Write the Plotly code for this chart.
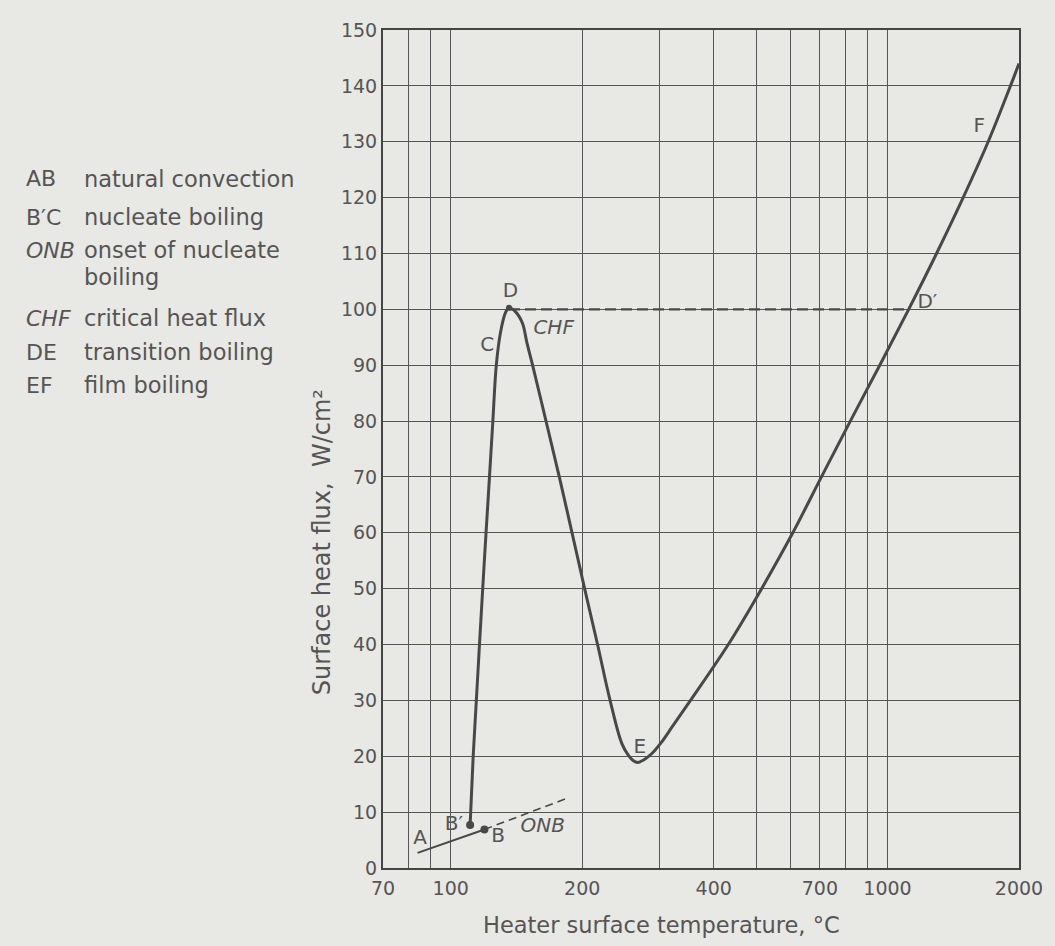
import numpy as np
import plotly.graph_objects as go

# ---------------- data ----------------
# main boiling curve B' -> C -> D -> E -> F  (temperature degC, heat flux W/cm2)
curve_T = [110.8, 112.6, 114.5, 116.4, 118.4, 120.5, 122.7, 124.9, 127.2, 130,
           133.5, 136, 141, 146, 149.5, 154, 165.3, 177.3, 189.6, 202.6, 216.9, 231.7,
           246.4, 255, 262, 268, 276, 288, 303, 321, 354, 432, 515, 607, 706, 822, 960,
           1118, 1295, 1490, 1700, 1912, 2000]
curve_q = [7.7, 20, 30, 40, 50, 60, 70, 80, 90, 95.8,
           99.4, 100.3, 99.5, 97.5, 94, 90, 80, 70, 60, 50, 40, 30,
           22.3, 20.2, 19.2, 18.9, 19.3, 20.4, 22.4, 25.2, 30, 40, 50, 60, 70, 80, 90,
           100, 110, 120, 130, 140, 144]

# natural convection A -> B
ab_T = [84, 119.5]
ab_q = [2.7, 6.9]

# ONB dashed extension
onb_T = [119.5, 185]
onb_q = [6.9, 12.5]

# CHF dashed line D -> D'
chf_T = [136, 1118]
chf_q = [100, 100]

# marked points
dot_T = [110.8, 119.5]
dot_q = [7.7, 6.9]
peak_T = [136]
peak_q = [100.3]

# point labels
lab_text = ["A", "B′", "B", "C", "D", "E", "D′", "F"]
lab_T = [85.1, 101.7, 128.5, 121.3, 137, 270.9, 1234, 1623]
lab_q = [5.2, 7.7, 5.6, 93.5, 103.1, 21.5, 101.2, 132.6]
ital_text = ["<i>ONB</i>", "<i>CHF</i>"]
ital_T = [162.4, 172.1]
ital_q = [7.4, 96.4]

# axis ticks
x_tickvals = [70, 80, 90, 100, 200, 300, 400, 500, 600, 700, 800, 900, 1000, 2000]
x_ticktext = ["70", "", "", "100", "200", "", "400", "", "", "700", "", "", "1000", "2000"]
y_tickvals = list(range(0, 151, 10))

# side legend
legend_abbr = ["AB", "B′C", "<i>ONB</i>", "", "<i>CHF</i>", "DE", "EF"]
legend_desc = ["natural convection", "nucleate boiling", "onset of nucleate",
               "boiling", "critical heat flux", "transition boiling", "film boiling"]
legend_rows_px = [179, 217, 250, 277, 318, 352, 385]

# ---------------- styling ----------------
BG = "#e8e8e4"
INK = "#484848"
TXT = "#555555"
FONT = "DejaVu Sans"
W, H = 1055, 946
L, R, T, B = 383, 1022, 30, 868  # plot area in pixels


def px_to_paper_x(px):
    return (px - L) / (R - L)


def px_to_paper_y(py):
    return (B - py) / (B - T)


fig = go.Figure()

fig.add_trace(go.Scatter(x=ab_T, y=ab_q, mode="lines",
                         line=dict(color=INK, width=2), hoverinfo="skip"))
fig.add_trace(go.Scatter(x=onb_T, y=onb_q, mode="lines",
                         line=dict(color=INK, width=1.6, dash="8px,5px"), hoverinfo="skip"))
fig.add_trace(go.Scatter(x=chf_T, y=chf_q, mode="lines",
                         line=dict(color=INK, width=2.2, dash="11px,5px"), hoverinfo="skip"))
fig.add_trace(go.Scatter(x=curve_T, y=curve_q, mode="lines",
                         line=dict(color=INK, width=3, shape="spline", smoothing=1.0),
                         hoverinfo="skip"))
fig.add_trace(go.Scatter(x=dot_T, y=dot_q, mode="markers",
                         marker=dict(color=INK, size=8), hoverinfo="skip"))
fig.add_trace(go.Scatter(x=peak_T, y=peak_q, mode="markers",
                         marker=dict(color=INK, size=6), hoverinfo="skip"))
fig.add_trace(go.Scatter(x=lab_T, y=lab_q, mode="text", text=lab_text,
                         textfont=dict(family=FONT, size=20, color=TXT),
                         textposition="middle center", hoverinfo="skip"))
fig.add_trace(go.Scatter(x=ital_T, y=ital_q, mode="text", text=ital_text,
                         textfont=dict(family=FONT, size=20, color=TXT),
                         textposition="middle center", hoverinfo="skip"))

annotations = []
for abbr, desc, row in zip(legend_abbr, legend_desc, legend_rows_px):
    if abbr:
        annotations.append(dict(text=abbr, xref="paper", yref="paper",
                                x=px_to_paper_x(22), y=px_to_paper_y(row),
                                xanchor="left", yanchor="middle", showarrow=False,
                                font=dict(family=FONT, size=22, color=TXT)))
    annotations.append(dict(text=desc, xref="paper", yref="paper",
                            x=px_to_paper_x(81), y=px_to_paper_y(row),
                            xanchor="left", yanchor="middle", showarrow=False,
                            font=dict(family=FONT, size=22.5, color=TXT)))

annotations.append(dict(text="Surface heat flux,  W/cm²", xref="paper", yref="paper",
                        x=px_to_paper_x(322), y=px_to_paper_y(542), textangle=-90,
                        xanchor="center", yanchor="middle", showarrow=False,
                        font=dict(family=FONT, size=24, color=TXT)))
annotations.append(dict(text="Heater surface temperature, °C", xref="paper", yref="paper",
                        x=px_to_paper_x(663), y=px_to_paper_y(925),
                        xanchor="center", yanchor="middle", showarrow=False,
                        font=dict(family=FONT, size=22.5, color=TXT)))

axis_common = dict(showgrid=True, gridcolor="#555555", gridwidth=1.4,
                   showline=True, linecolor="#444444", linewidth=2, mirror=True,
                   zeroline=False, ticks="",
                   tickfont=dict(family=FONT, size=19, color=TXT))

fig.update_layout(
    width=W, height=H,
    margin=dict(l=L, r=W - R, t=T, b=H - B),
    paper_bgcolor=BG, plot_bgcolor=BG,
    showlegend=False,
    xaxis=dict(type="log", range=[np.log10(70), np.log10(2000)],
               tickmode="array", tickvals=x_tickvals, ticktext=x_ticktext,
               ticklabelstandoff=2, **axis_common),
    yaxis=dict(range=[0, 150], tickmode="array", tickvals=y_tickvals,
               ticklabelstandoff=0, **axis_common),
    annotations=annotations,
)

fig.write_html(
    "out.html",
    config={"displayModeBar": False},
    post_script="document.body.style.margin='0px';"
                "document.body.style.backgroundColor='" + BG + "';",
)
